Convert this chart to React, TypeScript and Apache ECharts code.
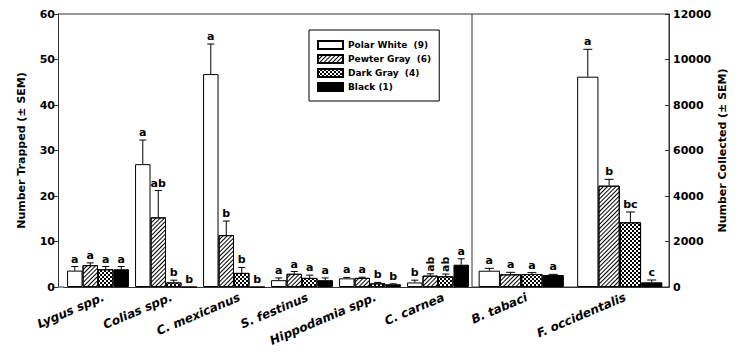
import React, { useEffect, useRef } from 'react';
import * as echarts from 'echarts';

const leftCategories = ['Lygus spp.', 'Colias spp.', 'C. mexicanus', 'S. festinus', 'Hippodamia spp.', 'C. carnea'];
const rightCategories = ['B. tabaci', 'F. occidentalis'];
const seriesNames = ['Polar White  (9)', 'Pewter Gray  (6)', 'Dark Gray  (4)', 'Black (1)'];

// Number trapped (mean) per insect, left panel
const polarWhiteTrapped = [3.6, 27.0, 46.8, 1.5, 1.9, 1.0];
const pewterGrayTrapped = [4.8, 15.3, 11.4, 2.9, 2.0, 2.5];
const darkGrayTrapped = [3.9, 1.0, 3.1, 2.0, 0.8, 2.35];
const blackTrapped = [3.9, 0, 0, 1.5, 0.6, 4.9];
// SEM, left panel
const polarWhiteTrappedSem = [0.9, 5.3, 6.6, 0.5, 0.2, 0.5];
const pewterGrayTrappedSem = [0.5, 5.9, 3.1, 0.5, 0.15, 0.4];
const darkGrayTrappedSem = [0.6, 0.5, 1.2, 0.6, 0.2, 0.5];
const blackTrappedSem = [0.6, 0, 0, 0.5, 0.1, 1.3];
// letters, left panel
const polarWhiteTrappedLetters = ['a', 'a', 'a', 'a', 'a', 'b'];
const pewterGrayTrappedLetters = ['a', 'ab', 'b', 'a', 'a', 'ab'];
const darkGrayTrappedLetters = ['a', 'b', 'b', 'a', 'b', 'ab'];
const blackTrappedLetters = ['a', 'b', 'b', 'a', 'b', 'a'];

// Number collected (mean), right panel
const polarWhiteCollected = [716, 9244];
const pewterGrayCollected = [557, 4453];
const darkGrayCollected = [571, 2843];
const blackCollected = [527, 206];
const polarWhiteCollectedSem = [104, 1204];
const pewterGrayCollectedSem = [88, 280];
const darkGrayCollectedSem = [59, 454];
const blackCollectedSem = [30, 102];
const polarWhiteCollectedLetters = ['a', 'a'];
const pewterGrayCollectedLetters = ['a', 'b'];
const darkGrayCollectedLetters = ['a', 'bc'];
const blackCollectedLetters = ['a', 'c'];

const leftTicks = [0, 10, 20, 30, 40, 50, 60];
const rightTicks = [0, 2000, 4000, 6000, 8000, 10000, 12000];

const FONT = '"DejaVu Sans", sans-serif';
const LINE = '#333';
const LEFT_GAP = 0.09;
const RIGHT_GAP = 0.135;

const styles: any[] = [
  { color: '#fff', borderColor: '#000', borderWidth: 1 },
  {
    color: '#fff', borderColor: '#000', borderWidth: 1,
    decal: { symbol: 'rect', symbolSize: 1, color: '#000', backgroundColor: null, dashArrayX: [1, 0], dashArrayY: [1, 2], rotation: -Math.PI / 4 },
  },
  {
    color: '#fff', borderColor: '#000', borderWidth: 1,
    decal: { symbol: 'rect', symbolSize: 1, color: '#000', backgroundColor: null, dashArrayX: [[2, 2], [0, 2, 2, 0]], dashArrayY: [2, 0], rotation: 0 },
  },
  { color: '#000', borderColor: '#000', borderWidth: 1 },
];

function buildErr(means: number[][], sems: number[][], letters: string[][]) {
  const data: number[][] = [];
  const labs: string[] = [];
  means.forEach((arr, s) => {
    arr.forEach((v, c) => {
      data.push([c, v, sems[s][c], s]);
      labs.push(letters[s][c]);
    });
  });
  return { data, labs };
}

function errSeries(xIdx: number, gap: number, capHalf: number, built: { data: number[][]; labs: string[] }, rotated: (s: number, c: number) => boolean) {
  return {
    type: 'custom',
    xAxisIndex: xIdx,
    yAxisIndex: xIdx,
    z: 5,
    silent: true,
    data: built.data,
    renderItem: (params: any, api: any) => {
      const c = api.value(0);
      const m = api.value(1);
      const e = api.value(2);
      const s = api.value(3);
      const band = api.size([1, 0])[0];
      const bw = (band * (1 - gap)) / 4;
      const cx = api.coord([c, 0])[0] + (s - 1.5) * bw;
      const yb = api.coord([c, m])[1];
      const yt = api.coord([c, m + e])[1];
      const children: any[] = [];
      if (e > 0) {
        children.push({ type: 'line', shape: { x1: cx, y1: yb, x2: cx, y2: yt }, style: { stroke: '#000', lineWidth: 1 } });
        children.push({ type: 'line', shape: { x1: cx - capHalf, y1: yt, x2: cx + capHalf, y2: yt }, style: { stroke: '#000', lineWidth: 1 } });
      }
      const txt = built.labs[params.dataIndex];
      if (rotated(s, c)) {
        children.push({
          type: 'text', x: cx, y: yt - 2, rotation: Math.PI / 2,
          style: { text: txt, font: `bold 11px ${FONT}`, fill: '#000', align: 'left', verticalAlign: 'middle' },
        });
      } else {
        children.push({
          type: 'text', x: cx, y: yt - 2,
          style: { text: txt, font: `bold 11px ${FONT}`, fill: '#000', align: 'center', verticalAlign: 'bottom' },
        });
      }
      return { type: 'group', children };
    },
  };
}

export default function App() {
  const ref = useRef<HTMLDivElement>(null);
  useEffect(() => {
    const chart = echarts.init(ref.current!, null, { renderer: 'svg' });
    const leftMeans = [polarWhiteTrapped, pewterGrayTrapped, darkGrayTrapped, blackTrapped];
    const leftSems = [polarWhiteTrappedSem, pewterGrayTrappedSem, darkGrayTrappedSem, blackTrappedSem];
    const leftLetters = [polarWhiteTrappedLetters, pewterGrayTrappedLetters, darkGrayTrappedLetters, blackTrappedLetters];
    const rightMeans = [polarWhiteCollected, pewterGrayCollected, darkGrayCollected, blackCollected];
    const rightSems = [polarWhiteCollectedSem, pewterGrayCollectedSem, darkGrayCollectedSem, blackCollectedSem];
    const rightLetters = [polarWhiteCollectedLetters, pewterGrayCollectedLetters, darkGrayCollectedLetters, blackCollectedLetters];

    const axisLabelX = { interval: 0, rotate: 23, margin: 12, padding: [0, -6, 0, 0], fontFamily: FONT, fontWeight: 'bold', fontStyle: 'italic', fontSize: 12, color: '#000' };
    const option: any = {
      animation: false,
      textStyle: { fontFamily: FONT },
      legend: {
        data: seriesNames,
        orient: 'vertical',
        left: 309,
        top: 30,
        padding: [9, 8, 8, 8],
        itemWidth: 25,
        itemHeight: 8,
        itemGap: 2,
        borderColor: '#000',
        borderWidth: 1,
        icon: 'rect',
        selectedMode: false,
        textStyle: { fontFamily: FONT, fontWeight: 'bold', fontSize: 9, lineHeight: 12, color: '#000' },
      },
      grid: [
        { left: 64, right: 279, top: 14, bottom: 67 },
        { left: 472, right: 82, top: 14, bottom: 67, show: true, borderColor: LINE, borderWidth: 1, backgroundColor: 'transparent' },
      ],
      xAxis: [
        {
          type: 'category', gridIndex: 0, data: leftCategories,
          axisLine: { lineStyle: { color: LINE } },
          axisTick: { alignWithLabel: true, length: 5, lineStyle: { color: LINE } },
          axisLabel: axisLabelX,
        },
        {
          type: 'category', gridIndex: 1, data: rightCategories,
          axisLine: { lineStyle: { color: LINE } },
          axisTick: { alignWithLabel: true, length: 5, lineStyle: { color: LINE } },
          axisLabel: axisLabelX,
        },
      ],
      yAxis: [
        {
          type: 'value', gridIndex: 0, min: leftTicks[0], max: leftTicks[leftTicks.length - 1], interval: leftTicks[1] - leftTicks[0],
          offset: 6,
          name: 'Number Trapped (± SEM)', nameLocation: 'middle', nameGap: 31, nameRotate: 90,
          nameTextStyle: { fontFamily: FONT, fontWeight: 'bold', fontSize: 11, color: '#000' },
          axisLine: { show: true, lineStyle: { color: LINE } },
          axisTick: { show: true, length: 5, lineStyle: { color: LINE } },
          axisLabel: { margin: 3, fontFamily: FONT, fontWeight: 'bold', fontSize: 11, color: '#000', formatter: (v: number) => String(v) },
          splitLine: { show: false },
        },
        {
          type: 'value', gridIndex: 1, position: 'right', min: rightTicks[0], max: rightTicks[rightTicks.length - 1], interval: rightTicks[1] - rightTicks[0],
          name: 'Number Collected (± SEM)', nameLocation: 'middle', nameGap: 48, nameRotate: 90,
          nameTextStyle: { fontFamily: FONT, fontWeight: 'bold', fontSize: 11, color: '#000' },
          axisLine: { show: true, lineStyle: { color: LINE } },
          axisTick: { show: true, inside: true, length: 4, lineStyle: { color: LINE } },
          axisLabel: { margin: 4, fontFamily: FONT, fontWeight: 'bold', fontSize: 11, color: '#000', formatter: (v: number) => String(v) },
          splitLine: { show: false },
        },
      ],
      graphic: [
        { type: 'line', shape: { x1: 58, y1: 14, x2: 472, y2: 14 }, style: { stroke: LINE, lineWidth: 1 }, silent: true },
        { type: 'line', shape: { x1: 58, y1: 287, x2: 64, y2: 287 }, style: { stroke: LINE, lineWidth: 1 }, silent: true },
      ],
      series: [
        ...leftMeans.map((d, i) => ({
          type: 'bar', name: seriesNames[i], xAxisIndex: 0, yAxisIndex: 0, data: d,
          barGap: '0%', barCategoryGap: `${LEFT_GAP * 100}%`, itemStyle: styles[i],
        })),
        ...rightMeans.map((d, i) => ({
          type: 'bar', name: seriesNames[i], xAxisIndex: 1, yAxisIndex: 1, data: d,
          barGap: '0%', barCategoryGap: `${RIGHT_GAP * 100}%`, itemStyle: styles[i],
        })),
        errSeries(0, LEFT_GAP, 3.5, buildErr(leftMeans, leftSems, leftLetters), (s, c) => c === 5 && (s === 1 || s === 2)),
        errSeries(1, RIGHT_GAP, 4.5, buildErr(rightMeans, rightSems, rightLetters), () => false),
      ],
    };
    chart.setOption(option);
    return () => chart.dispose();
  }, []);
  return <div ref={ref} style={{ position: 'absolute', left: 0, top: 0, width: 751, height: 354 }} />;
}
